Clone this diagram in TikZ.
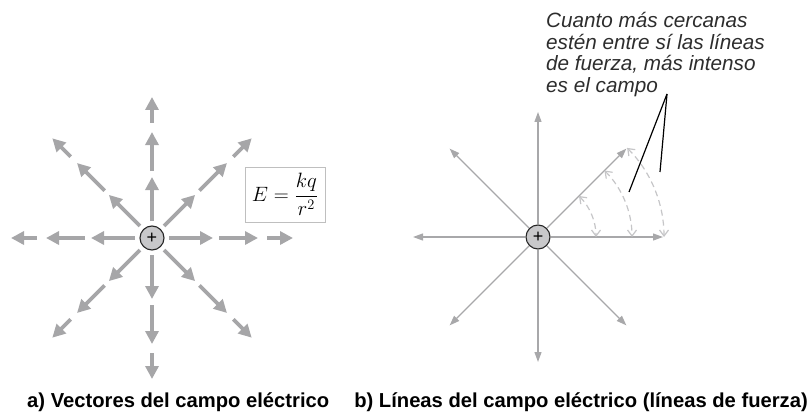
\documentclass[tikz,border=0pt]{standalone}
\usepackage{fontspec}
\usepackage{amsmath}
\usetikzlibrary{arrows.meta}
\newfontfamily\labelfont{Liberation Sans}
\definecolor{vecgray}{RGB}{166,166,168}
\definecolor{linegray}{RGB}{168,168,170}
\definecolor{dashgray}{RGB}{198,198,200}
\definecolor{chargefill}{RGB}{200,200,202}
\definecolor{notegray}{RGB}{45,45,45}
\begin{document}
\begin{tikzpicture}[
    x=1pt, y=1pt,
    charge/.style={circle, draw=black!85, fill=chargefill, line width=1.1pt, minimum size=24pt, inner sep=0pt, font=\labelfont\fontsize{18}{18}\selectfont},
    vec/.style={draw=vecgray, line width=3.8pt, -{Triangle[length=13pt, width=13pt]}},
    fline/.style={draw=linegray, line width=1.2pt, -{Triangle[length=10pt, width=7pt]}},
    farc/.style={draw=dashgray, line width=1.2pt, dash pattern=on 6pt off 4pt,
        {Straight Barb[length=6pt, width=9pt]}-{Straight Barb[length=6pt, width=9pt]}},
    formula/.style={draw=black!25, line width=0.8pt, minimum width=80pt, minimum height=55pt, inner sep=1pt, font=\fontsize{21}{24}\selectfont},
    caption/.style={font=\labelfont\bfseries\fontsize{20.2}{22}\selectfont, inner sep=0pt}
]
\useasboundingbox (0,0) rectangle (810,413);

% a) field vectors round the charge
\node[charge] (qa) at (152, 175) {+};
\foreach \a in {0,45,...,315} {
    \draw[vec] ([shift={(\a:17)}]qa.center) -- ([shift={(\a:61)}]qa.center);
    \draw[vec] ([shift={(\a:67)}]qa.center) -- ([shift={(\a:106)}]qa.center);
    \draw[vec] ([shift={(\a:115)}]qa.center) -- ([shift={(\a:141)}]qa.center);
}
\node[formula] (law) at (285, 218.5) {$E = \dfrac{kq}{r^2}$};

% b) field lines
\node[charge] (qb) at (538, 176) {+};
\foreach \a in {0,45,...,315}
    \draw[fline] (qb) -- ([shift={(\a:125)}]qb.center);

% dashed arcs between two lines
\foreach \r in {58,94,126}
    \draw[farc] ([shift={(45:\r)}]qb.center) arc[start angle=45, end angle=0, radius=\r];

% note and its pointers
\node[anchor=north west, align=left, inner sep=0pt, text=notegray,
      font=\labelfont\itshape\fontsize{20.7}{21.7}\selectfont] (note) at (546, 401)
    {Cuanto más cercanas\\estén entre sí las líneas\\de fuerza, más intenso\\es el campo};
\coordinate (apex) at (667, 319);
\coordinate (mid) at (629, 221);
\coordinate (outer) at (660, 241);
\draw[line width=1.2pt] (apex) -- (mid);
\draw[line width=1.2pt] (apex) -- (outer);

% captions
\node[caption, anchor=base west] (capa) at (27, 6) {a) Vectores del campo eléctrico};
\node[caption, anchor=base east] (capb) at (808, 6) {b) Líneas del campo eléctrico (líneas de fuerza)};

\end{tikzpicture}
\end{document}
